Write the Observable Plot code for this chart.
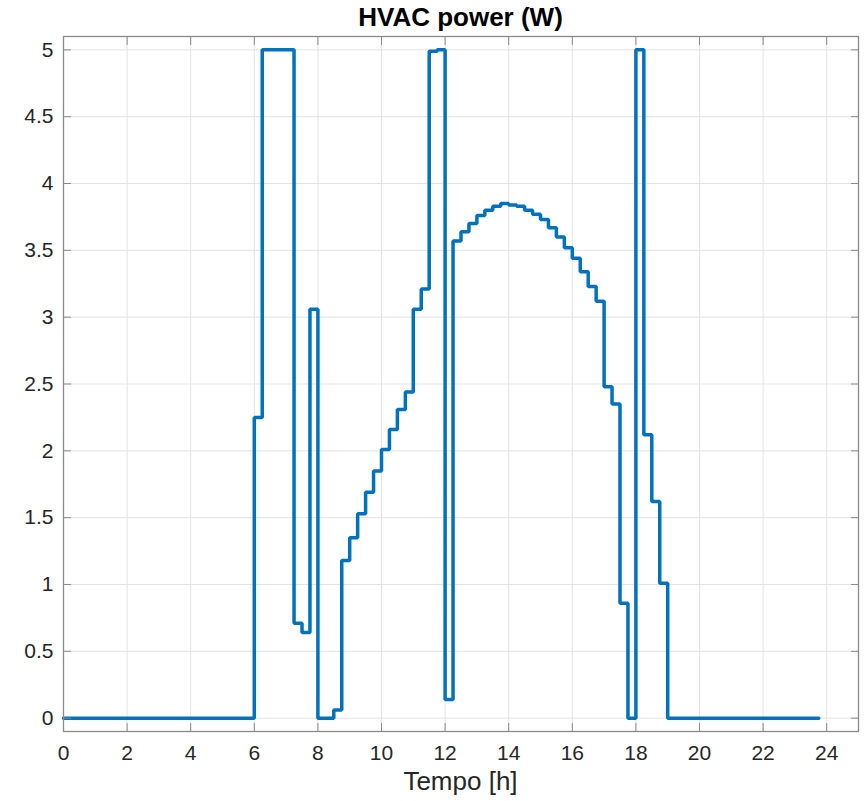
<!DOCTYPE html>
<html>
<head>
<meta charset="utf-8">
<script src="https://cdn.jsdelivr.net/npm/d3@7"></script>
<script src="https://cdn.jsdelivr.net/npm/@observablehq/plot@0.6"></script>
<style>
  html, body { margin: 0; padding: 0; background: #fff; }
  #wrap { position: relative; width: 866px; height: 801px; }
  #wrap svg { position: absolute; left: 0; top: 0; }
  .lbl { position: absolute; left: 63px; width: 795px; text-align: center; font-family: "Liberation Sans", Arial, sans-serif; line-height: 30px; color: #262626; }
  #title { top: 2px; font-weight: bold; font-size: 26px; color: #000; }
  #xlabel { top: 766px; font-size: 26px; }
</style>
</head>
<body>
<div id="wrap">
  <div id="chart"></div>
  <div id="title" class="lbl">HVAC power (W)</div>
  <div id="xlabel" class="lbl">Tempo [h]</div>
</div>
<script>
// Sampling grid: one value every 15 minutes from 0 h to 23.75 h
const stepHours = 0.25;
const powerW = [
  0, 0, 0, 0, 0, 0, 0, 0, 0, 0, 0, 0, 0, 0, 0, 0, 0, 0, 0, 0, 0, 0, 0, 0,
  2.25, 5, 5, 5, 5, 0.71, 0.64, 3.06,
  0, 0, 0.06, 1.18, 1.35, 1.53, 1.69, 1.85,
  2.01, 2.16, 2.31, 2.44, 3.06, 3.21, 4.99, 5.0,
  0.14, 3.57, 3.64, 3.70, 3.76, 3.80, 3.83, 3.85,
  3.84, 3.83, 3.80, 3.77, 3.73, 3.67, 3.60, 3.52,
  3.44, 3.34, 3.23, 3.12, 2.48, 2.35, 0.86, 0,
  5.0, 2.12, 1.62, 1.01,
  0, 0, 0, 0, 0, 0, 0, 0, 0, 0, 0, 0, 0, 0, 0, 0, 0, 0, 0, 0
];
const xTicks = [0, 2, 4, 6, 8, 10, 12, 14, 16, 18, 20, 22, 24];
const yTicks = [0, 0.5, 1, 1.5, 2, 2.5, 3, 3.5, 4, 4.5, 5];
const xDomain = [0, 25];
const yDomain = [-0.1, 5.1];

const data = powerW.map((p, i) => ({t: i * stepHours, p}));

const axisColor = "#8a8a8a";
const gridColor = "#e3e3e3";
const fmt = d => String(d);

const chart = Plot.plot({
  width: 866,
  height: 801,
  marginTop: 36,
  marginBottom: 70,
  marginLeft: 63,
  marginRight: 8,
  style: {fontFamily: "'Liberation Sans', Arial, sans-serif", fontSize: "21px", color: "#262626", background: "transparent"},
  x: {domain: xDomain},
  y: {domain: yDomain},
  marks: [
    Plot.gridX({ticks: xTicks, stroke: gridColor, strokeOpacity: 1}),
    Plot.gridY({ticks: yTicks, stroke: gridColor, strokeOpacity: 1}),
    Plot.lineY(data, {x: "t", y: "p", curve: "step-after", stroke: "#0072BD", strokeWidth: 3.5, strokeLinejoin: "miter"}),
    Plot.frame({stroke: axisColor, strokeWidth: 1.3}),
    // tick labels
    Plot.axisX({anchor: "bottom", ticks: xTicks, tickSize: 0, tickPadding: 14, tickFormat: fmt, label: null, fill: "#262626"}),
    Plot.axisY({anchor: "left", ticks: yTicks, tickSize: 0, tickPadding: 10, tickFormat: fmt, label: null, fill: "#262626"}),
    // inward tick marks on all four sides
    Plot.axisX({anchor: "bottom", ticks: xTicks, tickSize: -8, tickFormat: () => "", label: null, stroke: axisColor}),
    Plot.axisX({anchor: "top", ticks: xTicks, tickSize: -8, tickFormat: () => "", label: null, stroke: axisColor}),
    Plot.axisY({anchor: "left", ticks: yTicks, tickSize: -8, tickFormat: () => "", label: null, stroke: axisColor}),
    Plot.axisY({anchor: "right", ticks: yTicks, tickSize: -8, tickFormat: () => "", label: null, stroke: axisColor})
  ]
});
document.getElementById("chart").appendChild(chart);
</script>
</body>
</html>
